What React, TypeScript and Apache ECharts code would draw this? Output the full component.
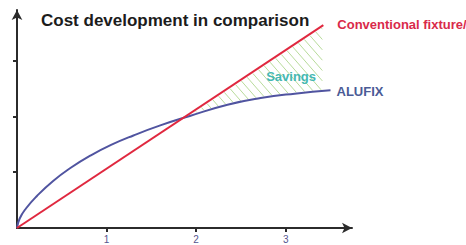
import React, { useEffect, useRef } from "react";
import * as echarts from "echarts";

const TITLE = "Cost development in comparison";
const X_TICKS = [1, 2, 3];
const Y_TICKS = [1, 2, 3];
const CONVENTIONAL_NAME = "Conventional fixture/";
const ALUFIX_NAME = "ALUFIX";
const SAVINGS_NAME = "Savings";

const conventional: number[][] = [
  [0, 0],
  [3.42, 3.64],
];

const alufix: number[][] = [
  [0, 0],
  [0.03, 0.17],
  [0.1, 0.35],
  [0.22, 0.57],
  [0.4, 0.84],
  [0.6, 1.08],
  [0.82, 1.3],
  [1.05, 1.49],
  [1.3, 1.66],
  [1.6, 1.84],
  [1.93, 2.01],
  [2.35, 2.21],
  [2.72, 2.33],
  [3.1, 2.41],
  [3.5, 2.47],
];

// savings region: top edge on conventional line, bottom edge on ALUFIX curve
const savingsTop: number[][] = [
  [1.86, 1.98],
  [3.42, 3.64],
];
const savingsBottom: number[][] = [
  [1.86, 1.98],
  [1.93, 2.01],
  [2.35, 2.21],
  [2.72, 2.33],
  [3.1, 2.41],
  [3.42, 2.46],
];
const savingsLabelAt: number[] = [3.06, 2.72];

const FONT = "'Liberation Sans', Arial, Helvetica, sans-serif";

function hatch(poly: number[][], slope: number, stepX: number, color: string) {
  const vals = poly.map((p) => slope * p[0] - p[1]);
  const cMin = Math.min(...vals);
  const cMax = Math.max(...vals);
  const step = slope * stepX;
  const out: any[] = [];
  for (let c = Math.ceil(cMin / step) * step; c <= cMax; c += step) {
    const pts: number[][] = [];
    for (let i = 0; i < poly.length; i++) {
      const a = poly[i];
      const b = poly[(i + 1) % poly.length];
      const fa = slope * a[0] - a[1] - c;
      const fb = slope * b[0] - b[1] - c;
      if (fa < 0 !== fb < 0) {
        const t = fa / (fa - fb);
        pts.push([a[0] + t * (b[0] - a[0]), a[1] + t * (b[1] - a[1])]);
      }
    }
    pts.sort((p, q) => p[0] - q[0]);
    for (let k = 0; k + 1 < pts.length; k += 2) {
      const p = pts[k];
      const q = pts[k + 1];
      const dx = q[0] - p[0];
      const dy = q[1] - p[1];
      const len = Math.sqrt(dx * dx + dy * dy);
      if (len < 3) continue;
      const ux = dx / len;
      const uy = dy / len;
      out.push({
        type: "line",
        shape: {
          x1: p[0] + ux * 1.5,
          y1: p[1] + uy * 1.5,
          x2: q[0] - ux * 1.5,
          y2: q[1] - uy * 1.5,
        },
        style: { stroke: color, lineWidth: 1 },
      });
    }
  }
  return out;
}

export default function App() {
  const ref = useRef<HTMLDivElement>(null);
  useEffect(() => {
    if (!ref.current) return;
    const chart = echarts.init(ref.current, null, { renderer: "svg" });
    const axisLineStyle = { color: "#2b2b2b", width: 2 };
    chart.setOption({
      animation: false,
      backgroundColor: "#ffffff",
      title: {
        text: TITLE,
        left: 36,
        top: 7,
        textStyle: { fontFamily: FONT, fontSize: 17, fontWeight: "bold", color: "#1c1c1c" },
      },
      grid: { left: 17, right: 114, top: 10, bottom: 17, containLabel: false },
      xAxis: {
        type: "value",
        min: 0,
        max: 3.74,
        interval: 1,
        axisLine: {
          show: true,
          onZero: false,
          symbol: ["none", "arrow"],
          symbolSize: [8, 10],
          lineStyle: axisLineStyle,
        },
        axisTick: { show: true, customValues: X_TICKS, length: 4, lineStyle: { color: "#2b2b2b", width: 2 } },
        axisLabel: {
          show: true,
          customValues: X_TICKS,
          margin: 6,
          fontSize: 10,
          fontFamily: FONT,
          color: "#55558f",
        },
        splitLine: { show: false },
      },
      yAxis: {
        type: "value",
        min: 0,
        max: 3.91,
        interval: 1,
        axisLine: {
          show: true,
          onZero: false,
          symbol: ["none", "arrow"],
          symbolSize: [8, 10],
          lineStyle: axisLineStyle,
        },
        axisTick: { show: true, customValues: Y_TICKS, length: 4, lineStyle: { color: "#2b2b2b", width: 2 } },
        axisLabel: { show: false },
        splitLine: { show: false },
      },
      series: [
        {
          type: "custom",
          name: SAVINGS_NAME,
          coordinateSystem: "cartesian2d",
          silent: true,
          clip: false,
          z: 1,
          data: [savingsLabelAt],
          renderItem: (params: any, api: any) => {
            const top = savingsTop.map((p) => api.coord(p));
            const bottom = savingsBottom.map((p) => api.coord(p)).reverse();
            const poly = [...top, ...bottom.slice(0, bottom.length - 1)];
            const lines = hatch(poly, 1.15, 9, "#b9dc9c");
            const lp = api.coord([api.value(0), api.value(1)]);
            return {
              type: "group",
              children: [
                ...lines,
                {
                  type: "text",
                  x: lp[0],
                  y: lp[1],
                  style: {
                    text: SAVINGS_NAME,
                    fill: "#45b8b2",
                    font: `bold 13px ${FONT}`,
                    align: "center",
                    verticalAlign: "middle",
                  },
                },
              ],
            };
          },
        },
        {
          type: "line",
          name: CONVENTIONAL_NAME,
          data: conventional,
          showSymbol: false,
          z: 3,
          lineStyle: { color: "#e0283f", width: 2 },
          itemStyle: { color: "#e0283f" },
          endLabel: {
            show: true,
            formatter: CONVENTIONAL_NAME,
            distance: 14,
            offset: [0, -1],
            color: "#d92a4a",
            fontSize: 13,
            fontWeight: "bold",
            fontFamily: FONT,
          },
        },
        {
          type: "line",
          name: ALUFIX_NAME,
          data: alufix,
          showSymbol: false,
          smooth: 0.5,
          z: 2,
          lineStyle: { color: "#5054a0", width: 2 },
          itemStyle: { color: "#5054a0" },
          endLabel: {
            show: true,
            formatter: ALUFIX_NAME,
            distance: 6,
            offset: [0, 1],
            color: "#4a5b96",
            fontSize: 13,
            fontWeight: "bold",
            fontFamily: FONT,
          },
        },
      ],
    });
    return () => chart.dispose();
  }, []);
  return (
    <div
      ref={ref}
      style={{ position: "fixed", left: 0, top: 0, width: 466, height: 245, background: "#fff" }}
    />
  );
}
